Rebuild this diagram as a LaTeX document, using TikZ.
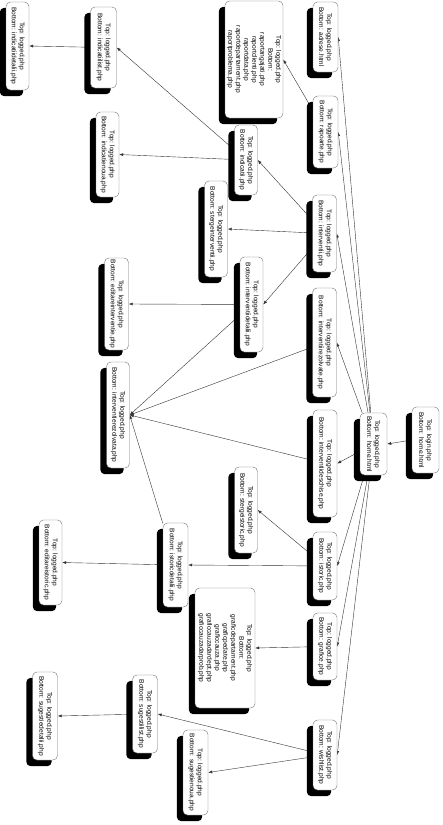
\documentclass[tikz,border=0pt]{standalone}
\usepackage{fontspec}
\setmainfont{Liberation Sans}
\usetikzlibrary{arrows.meta}
\pgfdeclarelayer{paperlayer}
\pgfdeclarelayer{edgelayer}
\pgfdeclarelayer{shadowlayer}
\pgfsetlayers{paperlayer,edgelayer,shadowlayer,main}
\tikzset{
  pg/.style={draw=black!55, fill=white, rounded corners=4.5pt, rotate=-90,
    font=\fontsize{6.6}{8}\selectfont, align=center, inner sep=1pt},
  conn/.style={draw=black!80, line width=0.4pt, -{Latex[length=4pt,width=3pt]}},
  shad/.style={fill=black, rounded corners=4.5pt}
}
\begin{document}
\begin{tikzpicture}[x=1pt,y=-1pt]
\begin{pgfonlayer}{paperlayer}
\fill[white] (0,0) rectangle (442,825);
\end{pgfonlayer}
\useasboundingbox (0,0) rectangle (442,825);
% column 1
\node[pg, minimum width=66pt, minimum height=27pt] (login) at (425.5,440) {Top: login.php\\Bottom: home.html};
\node[pg, minimum width=62pt, minimum height=27pt] (home) at (373.5,444) {Top: logged.php\\Bottom: home.html};
\node[pg, minimum width=70pt, minimum height=25pt] (adrese) at (325.5,37) {Top: logged.php\\Bottom: adrese.html};
\node[pg, minimum width=72pt, minimum height=25pt] (rapoarte) at (325.5,132) {Top: logged.php\\Bottom: rapoarte.php};
\node[pg, minimum width=77pt, minimum height=24pt] (interventii) at (324.5,233.5) {Top: logged.php\\Bottom: interventii.php};
\node[pg, minimum width=109pt, minimum height=24pt] (intrez) at (324.5,342.5) {Top: logged.php\\Bottom: interventiirezolvate.php};
\node[pg, minimum width=107pt, minimum height=24pt] (intdes) at (325,463.5) {Top: logged.php\\Bottom: interventiideschise.php};
\node[pg, minimum width=68pt, minimum height=24pt] (istoric) at (325,566) {Top: logged.php\\Bottom: istoric.php};
\node[pg, minimum width=67pt, minimum height=24pt] (grafice) at (325,646.5) {Top: logged.php\\Bottom: grafice.php};
\node[pg, minimum width=70pt, minimum height=24pt] (wishlist) at (325,755) {Top: logged.php\\Bottom: wishlist.php};
% column 2
\node[pg, minimum width=117pt, minimum height=58pt] (raplist) at (254,59.5) {Top: logged.php\\Bottom:\\raportangajati.php\\raportclienti.php\\raportdata.php\\raportdepartament.php\\raportproblema.php};
\node[pg, minimum width=70pt, minimum height=23pt] (indicatii) at (246,160) {Top: logged.php\\Bottom: indicatii.php};
\node[pg, minimum width=96pt, minimum height=23pt] (sterint) at (216,229) {Top: logged.php\\Bottom: stergeinterventii.php};
\node[pg, minimum width=95pt, minimum height=23pt] (intdet) at (251.5,304.5) {Top: logged.php\\Bottom: interventiidetalii.php};
\node[pg, minimum width=86pt, minimum height=23pt] (sterist) at (246,510) {Top: logged.php\\Bottom: stergeistoric.php};
\node[pg, minimum width=84pt, minimum height=25pt] (istdet) at (175.5,565) {Top: logged.php\\Bottom: istoricdetalii.php};
\node[pg, minimum width=120pt, minimum height=60pt] (graflist) at (225,648) {Top: logged.php\\Bottom:\\graficdepartament.php\\graficpedate.php\\graficcauza.php\\graficcauzadardept.php\\graficcauzadarprob.php};
\node[pg, minimum width=85pt, minimum height=25pt] (sugnoua) at (195.5,772.5) {Top: logged.php\\Bottom: sugestienoua.php};
% column 3
\node[pg, minimum width=81pt, minimum height=26pt] (indlist) at (103.5,47.5) {Top: logged.php\\Bottom: indicatiilist.php};
\node[pg, minimum width=88pt, minimum height=23pt] (inddet) at (17.5,46) {Top: logged.php\\Bottom: indicatiidetalii.php};
\node[pg, minimum width=85pt, minimum height=23pt] (indnoua) at (107.5,154.5) {Top: logged.php\\Bottom: indicatienoua.php};
\node[pg, minimum width=92pt, minimum height=24pt] (editint) at (116.5,304) {Top: logged.php\\Bottom: editareinterventie.php};
\node[pg, minimum width=106pt, minimum height=23pt] (intrezolv) at (118,415) {Top: logged.php\\Bottom: interventierezolvata.php};
\node[pg, minimum width=85pt, minimum height=23pt] (editist) at (50.5,562.5) {Top: logged.php\\Bottom: editareistoric.php};
\node[pg, minimum width=78pt, minimum height=25pt] (suglist) at (145,714) {Top: logged.php\\Bottom: sugestiilist.php};
\node[pg, minimum width=88pt, minimum height=25pt] (sugdet) at (45,716) {Top: logged.php\\Bottom: sugestiedetalii.php};
% shadows
\begin{pgfonlayer}{shadowlayer}
\foreach \n in {login,home,adrese,rapoarte,interventii,intrez,intdes,istoric,grafice,wishlist,raplist,indicatii,sterint,intdet,sterist,istdet,graflist,sugnoua,indlist,inddet,indnoua,editint,intrezolv,editist,suglist,sugdet}
  \fill[shad] ([shift={(-6,6)}]\n.south west) rectangle ([shift={(-6,6)}]\n.north east);
\end{pgfonlayer}
% connectors
\begin{pgfonlayer}{edgelayer}
\draw[conn] (login.south) -- (home.north);
\foreach \c in {adrese,rapoarte,interventii,intrez,intdes,istoric,grafice,wishlist}
  \draw[conn] (home) -- (\c.north);
\draw[conn] (rapoarte) -- (raplist.north);
\draw[conn] (interventii) -- (indicatii.north);
\draw[conn] (interventii) -- (sterint.north);
\draw[conn] (interventii) -- (intdet.north);
\draw[conn] (indicatii) -- (indlist.north);
\draw[conn] (indicatii) -- (indnoua.north);
\draw[conn] (indlist) -- (inddet.north);
\draw[conn] (intdet) -- (editint.north);
\draw[conn] (intdet) -- (intrezolv.north);
\draw[conn] (intrez) -- (intrezolv.north);
\draw[conn] (intdes) -- (intrezolv.north);
\draw[conn] (istoric) -- (sterist.north);
\draw[conn] (istoric) -- (istdet.north);
\draw[conn] (istdet) -- (editist.north);
\draw[conn] (istdet) -- (intrezolv.north);
\draw[conn] (grafice) -- (graflist.north);
\draw[conn] (wishlist) -- (suglist.north);
\draw[conn] (wishlist) -- (sugnoua.north);
\draw[conn] (suglist) -- (sugdet.north);
\end{pgfonlayer}
\end{tikzpicture}
\end{document}
